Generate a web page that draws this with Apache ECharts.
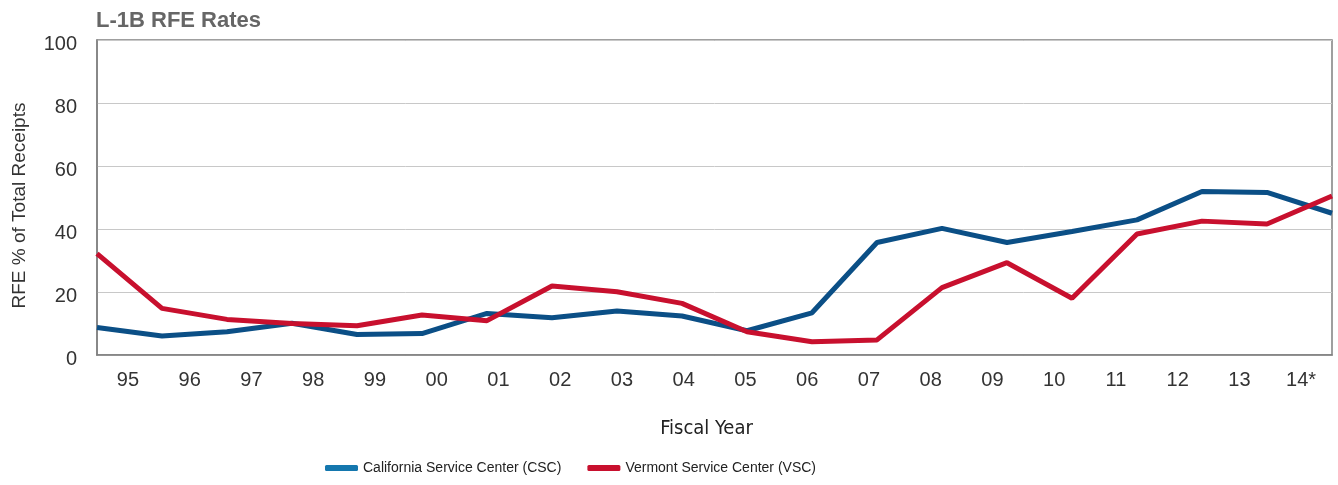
<!DOCTYPE html>
<html>
<head>
<meta charset="utf-8">
<title>L-1B RFE Rates</title>
<script src="https://cdn.jsdelivr.net/npm/echarts@6/dist/echarts.min.js"></script>
<style>
  html, body { margin: 0; padding: 0; background: #ffffff; }
  #chart { width: 1338px; height: 485px; }
</style>
</head>
<body>
<div id="chart"></div>
<script>
// Fiscal years shown on the x axis
const years = ['95', '96', '97', '98', '99', '00', '01', '02', '03', '04',
               '05', '06', '07', '08', '09', '10', '11', '12', '13', '14*'];

// RFE rate (% of total receipts) per fiscal year
const cscRates = [8.7, 6.0, 7.4, 10.1, 6.5, 6.8, 13.2, 11.8, 14.0, 12.4,
                  7.7, 13.4, 35.7, 40.2, 35.7, 39.2, 42.9, 51.9, 51.6, 45.0];
const vscRates = [32.2, 14.8, 11.3, 10.0, 9.3, 12.7, 10.9, 21.9, 20.1, 16.4,
                  7.4, 4.2, 4.8, 21.4, 29.3, 18.0, 38.4, 42.5, 41.6, 50.5];

const yTicks = { min: 0, max: 100, interval: 20 };

const seriesNames = ['California Service Center (CSC)', 'Vermont Service Center (VSC)'];

const lineColors = ['#0b4f86', '#c8102e'];
const legendColors = ['#1477ae', '#c8102e'];

const narrow = '"Liberation Sans Narrow", "DejaVu Sans Condensed", "Liberation Sans", sans-serif';
const regular = '"Liberation Sans", Arial, sans-serif';

const chart = echarts.init(document.getElementById('chart'));

chart.setOption({
  backgroundColor: '#ffffff',
  animation: false,
  title: {
    text: 'L-1B RFE Rates',
    left: 96,
    top: 10,
    padding: 0,
    textStyle: { fontFamily: regular, fontWeight: 'bold', fontSize: 22, color: '#666666' }
  },
  legend: {
    left: 325,
    top: 461,
    padding: 0,
    itemGap: 26,
    itemWidth: 33,
    itemHeight: 6,
    icon: 'roundRect',
    textStyle: { fontFamily: regular, fontSize: 14, color: '#222222' },
    data: seriesNames.map((n, i) => ({ name: n, itemStyle: { color: legendColors[i] } }))
  },
  grid: {
    left: 97,
    right: 6,
    top: 40,
    bottom: 130,
    show: true,
    borderColor: '#808080',
    borderWidth: 1.5
  },
  xAxis: [
    {
      // labels sit in the middle of each year's band
      type: 'category',
      data: years,
      boundaryGap: true,
      position: 'bottom',
      axisLine: { show: true, lineStyle: { color: '#808080', width: 1.5 } },
      axisTick: { show: false },
      axisLabel: {
        fontFamily: regular, fontSize: 20, color: '#333333', margin: 15,
        interval: 0
      },
      splitLine: { show: false },
      name: 'Fiscal Year',
      nameLocation: 'middle',
      nameGap: 64,
      nameTextStyle: { fontFamily: narrow, fontSize: 20, color: '#222222', padding: [0, 16, 0, 0] }
    },
    {
      // data points run edge to edge
      type: 'category',
      data: years,
      boundaryGap: false,
      show: false
    }
  ],
  yAxis: {
    type: 'value',
    min: yTicks.min,
    max: yTicks.max,
    interval: yTicks.interval,
    axisLine: { show: true, lineStyle: { color: '#808080', width: 1.5 } },
    axisTick: { show: false },
    axisLabel: {
      fontFamily: regular, fontSize: 20, color: '#333333', margin: 20,
      verticalAlign: 'top', lineHeight: 8
    },
    splitLine: { show: true, lineStyle: { color: '#c8c8c8', width: 1 } },
    name: 'RFE % of Total Receipts',
    nameLocation: 'middle',
    nameGap: 68,
    nameTextStyle: { fontFamily: regular, fontSize: 19, color: '#333333', padding: [0, 16, 0, 0] }
  },
  series: [
    {
      name: seriesNames[0],
      type: 'line',
      xAxisIndex: 1,
      data: cscRates,
      symbol: 'none',
      lineStyle: { color: lineColors[0], width: 5 },
      itemStyle: { color: lineColors[0] }
    },
    {
      name: seriesNames[1],
      type: 'line',
      xAxisIndex: 1,
      data: vscRates,
      symbol: 'none',
      lineStyle: { color: lineColors[1], width: 5 },
      itemStyle: { color: lineColors[1] }
    }
  ]
});
</script>
</body>
</html>
